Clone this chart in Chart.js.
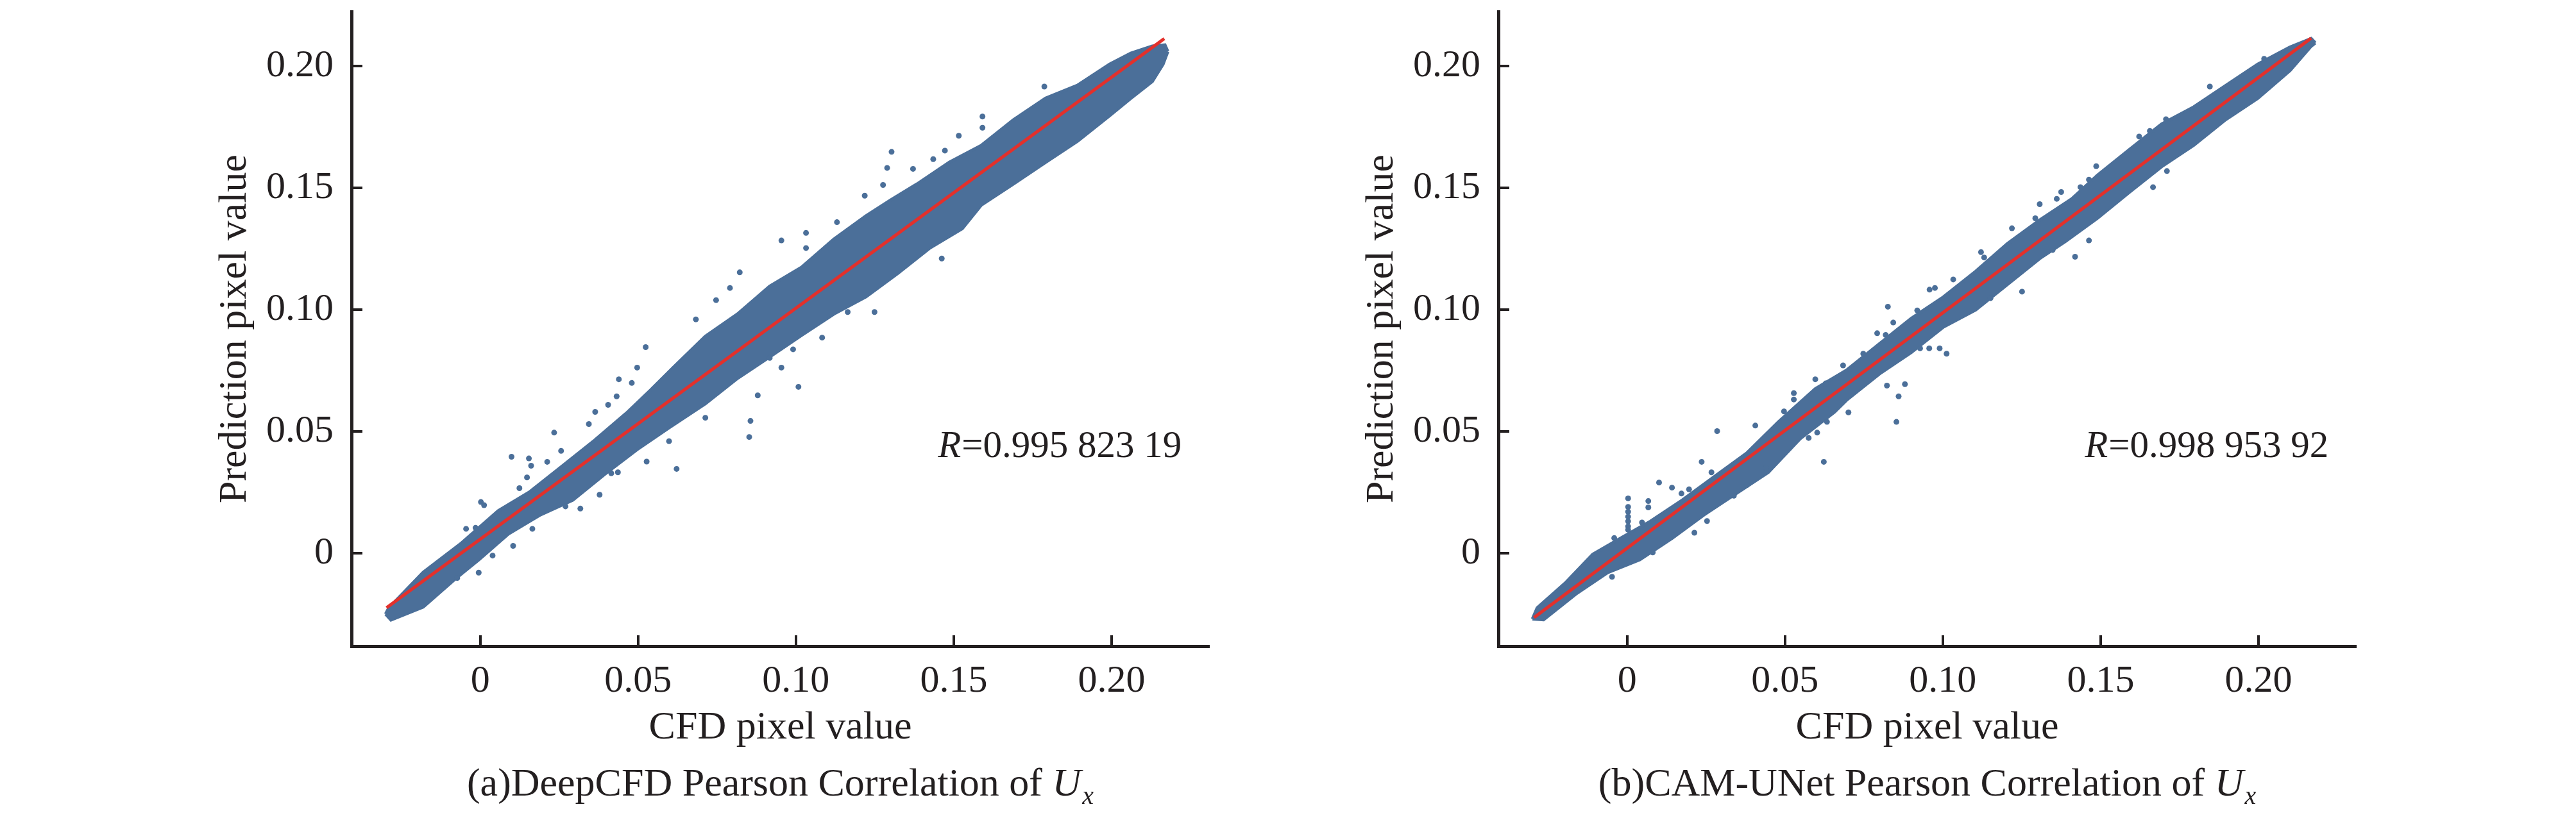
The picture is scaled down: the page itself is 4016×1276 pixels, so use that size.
<!DOCTYPE html>
<html>
<head>
<meta charset="utf-8">
<script src="https://cdn.jsdelivr.net/npm/chart.js@4.4.0/dist/chart.umd.min.js"></script>
<style>
html,body{margin:0;padding:0;background:#fff;}
#wrap{position:relative;width:4016px;height:1276px;overflow:hidden;background:#fff;}
canvas{position:absolute;top:0;}
</style>
</head>
<body>
<div id="wrap">
<canvas id="cA" width="2008" height="1276" style="left:0;width:2008px;height:1276px"></canvas>
<canvas id="cB" width="2008" height="1276" style="left:2008px;width:2008px;height:1276px"></canvas>
</div>
<script>
// ---------- data ----------
const xTickValues = [0, 0.05, 0.10, 0.15, 0.20];
const xTickLabels = ['0', '0.05', '0.10', '0.15', '0.20'];
const yTickValues = [0, 0.05, 0.10, 0.15, 0.20];
const yTickLabels = ['0', '0.05', '0.10', '0.15', '0.20'];
const xTitle = 'CFD pixel value';
const yTitle = 'Prediction pixel value';
const captionA = '(a)DeepCFD Pearson Correlation of ';
const captionB = '(b)CAM-UNet Pearson Correlation of ';
const rValueA = '=0.995 823 19';
const rValueB = '=0.998 953 92';

// (a) DeepCFD: dense point cloud envelope (upper / lower edge)
const bandUpperA = [
  [-0.0300,-0.0250],[-0.0290,-0.0225],[-0.0181,-0.0079],[-0.0059,0.0042],[0.0057,0.0174],
  [0.0158,0.0253],[0.0260,0.0358],[0.0362,0.0463],[0.0463,0.0575],[0.0540,0.0670],
  [0.0612,0.0763],[0.0713,0.0890],[0.0815,0.0982],[0.0917,0.1096],[0.1018,0.1174],
  [0.1120,0.1289],[0.1222,0.1385],[0.1300,0.1450],[0.1384,0.1516],[0.1486,0.1605],
  [0.1587,0.1674],[0.1689,0.1779],[0.1791,0.1868],[0.1892,0.1921],[0.1994,0.2008],
  [0.2061,0.2053],[0.2129,0.2082],[0.2169,0.2087],[0.2178,0.2060]
];
const bandLowerA = [
  [-0.0300,-0.0250],[-0.0283,-0.0274],[-0.0181,-0.0221],[-0.0079,-0.0105],[-0.0004,-0.0026],
  [0.0089,0.0079],[0.0191,0.0158],[0.0293,0.0218],[0.0394,0.0324],[0.0496,0.0425],
  [0.0598,0.0515],[0.0713,0.0614],[0.0815,0.0718],[0.0917,0.0806],[0.1018,0.0895],
  [0.1120,0.0982],[0.1222,0.1053],[0.1323,0.1149],[0.1425,0.1254],[0.1527,0.1333],
  [0.1587,0.1429],[0.1689,0.1516],[0.1791,0.1605],[0.1892,0.1692],[0.1994,0.1797],
  [0.2061,0.1868],[0.2129,0.1937],[0.2163,0.2008],[0.2178,0.2060]
];
const outliersA = [
  [0.0524,0.0846],[0.0497,0.0762],[0.0439,0.0714],[0.0480,0.0699],[0.0432,0.0644],
  [0.0405,0.0609],[0.0364,0.0580],[0.0344,0.0530],[0.0234,0.0495],[0.0256,0.0420],
  [0.0099,0.0396],[0.0154,0.0389],[0.0161,0.0359],[0.0212,0.0375],[0.0148,0.0311],
  [0.0124,0.0267],[0.0002,0.0210],[0.0012,0.0197],[-0.0045,0.0100],[-0.0015,0.0104],
  [0.0165,0.0100],[0.0104,0.0030],[0.0378,0.0240],[0.0317,0.0183],[0.0270,0.0192],
  [0.0527,0.0376],[0.0622,0.0346],[0.0598,0.0460],[0.0415,0.0328],[0.0436,0.0332],
  [-0.0005,-0.0080],[-0.0073,-0.0102],[0.0039,-0.0010],
  [0.1303,0.1648],[0.1472,0.1653],[0.1289,0.1582],[0.1276,0.1512],[0.1218,0.1468],
  [0.1130,0.1359],[0.1032,0.1315],[0.1032,0.1253],[0.0954,0.1284],[0.0822,0.1153],
  [0.0791,0.1089],[0.0747,0.1039],[0.0683,0.0960],[0.1462,0.1210],[0.1249,0.0990],
  [0.1164,0.0990],[0.1083,0.0885],[0.0954,0.0762],[0.1008,0.0683],[0.0879,0.0648],
  [0.0856,0.0543],[0.0852,0.0477],[0.0713,0.0556],[0.0991,0.0837],[0.0917,0.0802],
  [0.1516,0.1714],[0.1591,0.1793],[0.1591,0.1747],[0.1435,0.1618],[0.1787,0.1916],
  [0.1371,0.1578]
];
const fitLineA = [[-0.0297,-0.0224],[0.2167,0.2113]];

// (b) CAM-UNet
const bandUpperB = [
  [-0.0300,-0.0270],[-0.0285,-0.0225],[-0.0197,-0.0124],[-0.0109,-0.0005],[-0.0021,0.0061],
  [0.0074,0.0131],[0.0175,0.0218],[0.0277,0.0315],[0.0379,0.0411],[0.0480,0.0540],
  [0.0596,0.0675],[0.0697,0.0753],[0.0799,0.0859],[0.0900,0.0964],[0.1002,0.1052],
  [0.1104,0.1157],[0.1205,0.1271],[0.1307,0.1368],[0.1409,0.1455],[0.1490,0.1552],
  [0.1591,0.1657],[0.1693,0.1762],[0.1795,0.1832],[0.1896,0.1920],[0.1998,0.2008],
  [0.2100,0.2078],[0.2167,0.2113],[0.2180,0.2095]
];
const bandLowerB = [
  [-0.0300,-0.0270],[-0.0265,-0.0273],[-0.0163,-0.0168],[-0.0062,-0.0080],[0.0040,-0.0027],
  [0.0142,0.0061],[0.0243,0.0157],[0.0345,0.0245],[0.0447,0.0332],[0.0548,0.0470],
  [0.0657,0.0580],[0.0697,0.0631],[0.0799,0.0736],[0.0900,0.0824],[0.1002,0.0929],
  [0.1104,0.0999],[0.1205,0.1104],[0.1307,0.1210],[0.1388,0.1280],[0.1490,0.1376],
  [0.1591,0.1482],[0.1693,0.1587],[0.1795,0.1675],[0.1896,0.1780],[0.1998,0.1868],
  [0.2100,0.1982],[0.2167,0.2082],[0.2180,0.2095]
];
const outliersB = [
  [0.0596,0.0714],[0.0629,0.0697],[0.0528,0.0657],[0.0528,0.0631],[0.0497,0.0582],
  [0.0406,0.0524],[0.0285,0.0501],[0.0236,0.0375],[0.0267,0.0332],[0.0101,0.0290],
  [0.0142,0.0269],[0.0003,0.0225],[0.0067,0.0214],[0.0172,0.0245],[0.0196,0.0262],
  [0.0067,0.0188],[0.0047,0.0126],[0.0003,0.0190],[0.0003,0.0170],[0.0003,0.0150],
  [0.0003,0.0131],[0.0003,0.0110],[0.0003,0.0096],[0.0253,0.0132],[0.0213,0.0084],
  [0.0148,0.0074],[-0.0041,0.0062],[0.0633,0.0539],[0.0623,0.0375],[0.0602,0.0495],
  [0.0575,0.0473],[0.0338,0.0236],[0.0379,0.0280],[0.0440,0.0350],[-0.0048,-0.0097],
  [0.0081,0.0003],
  [0.1486,0.1589],[0.1463,0.1534],[0.1436,0.1503],[0.1375,0.1483],[0.1361,0.1455],
  [0.1307,0.1433],[0.1219,0.1334],[0.1293,0.1375],[0.1121,0.1236],[0.1131,0.1214],
  [0.1033,0.1124],[0.0958,0.1082],[0.0975,0.1089],[0.0919,0.0997],[0.0826,0.1012],
  [0.0843,0.0947],[0.0792,0.0903],[0.0819,0.0896],[0.0748,0.0819],[0.0684,0.0771],
  [0.0928,0.0841],[0.0957,0.0841],[0.0990,0.0841],[0.1012,0.0819],[0.0823,0.0688],
  [0.0880,0.0694],[0.0860,0.0644],[0.0701,0.0578],[0.0853,0.0539],[0.1463,0.1284],
  [0.1419,0.1217],[0.1251,0.1074],[0.1151,0.1047],
  [0.1846,0.1916],[0.2018,0.2030],[0.1707,0.1782],[0.1656,0.1734],[0.1622,0.1711],
  [0.1710,0.1569],[0.1666,0.1503],[0.1348,0.1245]
];
const fitLineB = [[-0.0295,-0.0264],[0.2167,0.2115]];

// axis ranges and annotation anchor (data units)
const xRange = [-0.0408, 0.2309];
const yRange = [-0.0382, 0.2224];
const rAnchor = [0.1450, 0.0436];

// ---------- styling ----------
const FONT = "'Liberation Serif', 'DejaVu Serif', serif";
const FS_TICK = 60;
const FS_TITLE = 62;
const FS_CAP = 62;
const FS_R = 59;
const INK = '#231f20';
const BLUE = '#4b6f99';
const RED = '#e3302b';
const CANVAS_W = 2008, CANVAS_H = 1276;
const AREA_TOP = 18, AREA_BOTTOM = 1008;

const toXY = arr => arr.map(p => ({x: p[0], y: p[1]}));

function build(id, p) {
  const decor = {
    id: 'decor' + id,
    afterDraw(chart) {
      const ctx = chart.ctx, xs = chart.scales.x, ys = chart.scales.y, a = chart.chartArea;
      ctx.save();
      // inward tick marks
      ctx.strokeStyle = INK; ctx.lineWidth = 4; ctx.lineCap = 'butt';
      xs.ticks.forEach(t => {
        const px = Math.round(xs.getPixelForValue(t.value));
        ctx.beginPath(); ctx.moveTo(px, a.bottom); ctx.lineTo(px, a.bottom - 17); ctx.stroke();
      });
      ys.ticks.forEach(t => {
        const py = Math.round(ys.getPixelForValue(t.value));
        ctx.beginPath(); ctx.moveTo(a.left, py); ctx.lineTo(a.left + 17, py); ctx.stroke();
      });
      // R annotation
      ctx.fillStyle = INK; ctx.textBaseline = 'middle'; ctx.textAlign = 'left';
      const rx = xs.getPixelForValue(rAnchor[0]), ry = ys.getPixelForValue(rAnchor[1]);
      ctx.font = 'italic ' + FS_R + 'px ' + FONT;
      ctx.fillText('R', rx, ry);
      const rw = ctx.measureText('R').width;
      ctx.font = FS_R + 'px ' + FONT;
      ctx.fillText(p.rValue, rx + rw + 1, ry);
      // caption
      const capY = 1221;
      ctx.font = FS_CAP + 'px ' + FONT;
      const w1 = ctx.measureText(p.caption).width;
      ctx.font = 'italic ' + FS_CAP + 'px ' + FONT;
      const w2 = ctx.measureText('U').width;
      ctx.font = 'italic 40px ' + FONT;
      const w3 = ctx.measureText('x').width;
      const total = w1 + w2 + w3 + 2;
      let cx = (a.left + a.right) / 2 - total / 2;
      ctx.textBaseline = 'alphabetic';
      const base = capY + 20;
      ctx.font = FS_CAP + 'px ' + FONT; ctx.fillText(p.caption, cx, base); cx += w1;
      ctx.font = 'italic ' + FS_CAP + 'px ' + FONT; ctx.fillText('U', cx, base); cx += w2 + 2;
      ctx.font = 'italic 40px ' + FONT; ctx.fillText('x', cx, base + 13);
      ctx.restore();
    }
  };
  return new Chart(document.getElementById(id), {
    type: 'scatter',
    data: {
      datasets: [
        {type: 'line', data: toXY(p.fit), borderColor: RED, borderWidth: 5,
         pointRadius: 0, pointHoverRadius: 0, fill: false, order: 0},
        {type: 'scatter', data: toXY(p.outliers), backgroundColor: BLUE, borderWidth: 0,
         pointRadius: 4.5, pointHoverRadius: 4.5, order: 1},
        {type: 'line', data: toXY(p.lower), borderColor: BLUE, borderWidth: 5,
         pointRadius: 0, pointHoverRadius: 0, fill: false, order: 3},
        {type: 'line', data: toXY(p.upper), borderColor: BLUE, borderWidth: 5,
         pointRadius: 0, pointHoverRadius: 0, fill: '-1', backgroundColor: BLUE, order: 2}
      ]
    },
    options: {
      responsive: false, animation: false, devicePixelRatio: 1,
      layout: {padding: {left: p.padLeft, right: CANVAS_W - p.areaRight, top: AREA_TOP, bottom: 0}},
      plugins: {legend: {display: false}, tooltip: {enabled: false}},
      scales: {
        x: {
          type: 'linear', position: 'bottom', min: xRange[0], max: xRange[1],
          afterBuildTicks: s => { s.ticks = xTickValues.map(v => ({value: v})); },
          afterFit: s => { s.height = CANVAS_H - AREA_BOTTOM; s.paddingLeft = 0; s.paddingRight = 0; },
          ticks: {callback: (v, i) => xTickLabels[i], font: {family: FONT, size: FS_TICK}, color: INK,
                  padding: 19, maxRotation: 0, autoSkip: false},
          grid: {display: false, drawTicks: false},
          border: {display: true, color: INK, width: 5},
          title: {display: true, text: xTitle, font: {family: FONT, size: FS_TITLE}, color: INK,
                  padding: {top: 0, bottom: 103}}
        },
        y: {
          type: 'linear', position: 'left', min: yRange[0], max: yRange[1],
          afterBuildTicks: s => { s.ticks = yTickValues.map(v => ({value: v})); },
          afterFit: s => { s.width = p.areaLeft - p.padLeft; s.paddingTop = 0; s.paddingBottom = 0; },
          ticks: {callback: (v, i) => yTickLabels[i], font: {family: FONT, size: FS_TICK}, color: INK,
                  padding: 28, autoSkip: false},
          grid: {display: false, drawTicks: false},
          border: {display: true, color: INK, width: 5},
          title: {display: true, text: yTitle, font: {family: FONT, size: FS_TITLE}, color: INK,
                  padding: {top: 30, bottom: 0}}
        }
      }
    },
    plugins: [decor]
  });
}

build('cA', {upper: bandUpperA, lower: bandLowerA, outliers: outliersA, fit: fitLineA,
             caption: captionA, rValue: rValueA, padLeft: 300, areaLeft: 548, areaRight: 1885});
build('cB', {upper: bandUpperB, lower: bandLowerB, outliers: outliersB, fit: fitLineB,
             caption: captionB, rValue: rValueB, padLeft: 80, areaLeft: 328, areaRight: 1665});
</script>
</body>
</html>
